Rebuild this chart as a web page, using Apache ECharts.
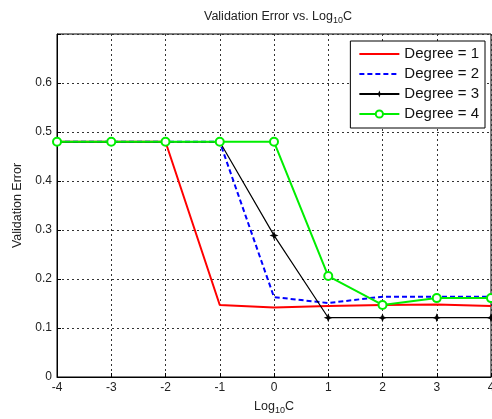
<!DOCTYPE html>
<html>
<head>
<meta charset="utf-8">
<script src="https://cdn.jsdelivr.net/npm/echarts@6/dist/echarts.min.js"></script>
<style>
  html, body { margin: 0; padding: 0; background: #fff; }
  #chart { width: 492px; height: 419px; }
</style>
</head>
<body>
<div id="chart"></div>
<script>
const logC = [-4, -3, -2, -1, 0, 1, 2, 3, 4]
const degree1 = [0.48, 0.48, 0.48, 0.147, 0.142, 0.145, 0.147, 0.148, 0.145]
const degree2 = [0.48, 0.48, 0.48, 0.48, 0.163, 0.151, 0.164, 0.164, 0.164]
const degree3 = [0.48, 0.48, 0.48, 0.48, 0.289, 0.121, 0.121, 0.121, 0.121]
const degree4 = [0.48, 0.48, 0.48, 0.48, 0.48, 0.206, 0.147, 0.161, 0.161]
const yTicks = [0, 0.1, 0.2, 0.3, 0.4, 0.5, 0.6]

const pair = (ys) => logC.map((x, i) => [x, ys[i]])
const star = 'path://M0,-5L1.4,-1.4L5,0L1.4,1.4L0,5L-1.4,1.4L-5,0L-1.4,-1.4Z'
const font = 'Arial, "Liberation Sans", sans-serif'
const txt = { fontFamily: font, fontSize: 12.5, color: '#222', fontWeight: 'normal' }
const sub = { fontFamily: font, fontSize: 9, color: '#222', fontWeight: 'normal', padding: [7, 0, 0, 0] }

const chart = echarts.init(document.getElementById('chart'))

chart.setOption({
  animation: false,
  backgroundColor: '#fff',
  title: {
    text: '{a|Validation Error vs. Log}{s|10}{a|C}',
    left: 273,
    textAlign: 'center',
    top: 4,
    textStyle: { fontWeight: 'normal', rich: { a: txt, s: sub } }
  },
  grid: {
    left: 57, right: 1, top: 34, bottom: 42,
    outerBoundsMode: 'none',
    containLabel: false,
    show: true, borderColor: '#000', borderWidth: 1, backgroundColor: '#fff'
  },
  legend: {
    orient: 'vertical',
    right: 7,
    top: 41,
    backgroundColor: '#fff',
    borderColor: '#000',
    borderWidth: 1,
    borderRadius: 0,
    padding: [5, 6, 6, 8],
    itemGap: 4,
    itemWidth: 40,
    itemHeight: 9,
    textStyle: { fontFamily: font, fontSize: 15, color: '#111', lineHeight: 16 },
    data: [
      { name: 'Degree = 1', itemStyle: { opacity: 0 } },
      { name: 'Degree = 2', itemStyle: { opacity: 0 } },
      { name: 'Degree = 3' },
      { name: 'Degree = 4' }
    ]
  },
  xAxis: {
    type: 'value',
    min: -4, max: 4, interval: 1,
    name: '{a|Log}{s|10}{a|C}',
    nameLocation: 'middle',
    nameGap: 22,
    nameTextStyle: { rich: { a: txt, s: sub } },
    axisLine: { show: true, onZero: false, lineStyle: { color: '#000' } },
    axisTick: { show: true, inside: true, length: 4, lineStyle: { color: '#000' } },
    axisLabel: { fontFamily: font, fontSize: 12, color: '#222', margin: 5 },
    splitLine: { show: true, lineStyle: { color: '#333', type: [2, 3] } }
  },
  yAxis: {
    type: 'value',
    min: 0, max: 0.7, interval: 0.1,
    name: 'Validation Error',
    nameLocation: 'middle',
    nameGap: 32,
    nameTextStyle: txt,
    axisLine: { show: true, onZero: false, lineStyle: { color: '#000' } },
    axisTick: { show: true, inside: true, length: 4, lineStyle: { color: '#000' } },
    axisLabel: {
      fontFamily: font, fontSize: 12, color: '#222', margin: 5,
      formatter: (v) => {
        const t = yTicks.find((k) => Math.abs(k - v) < 1e-6)
        return t === undefined ? '' : String(t)
      }
    },
    splitLine: { show: true, lineStyle: { color: '#333', type: [2, 3] } }
  },
  series: [
    {
      name: 'Degree = 1', type: 'line', data: pair(degree1),
      showSymbol: false, symbol: 'none',
      lineStyle: { color: '#ff0000', width: 2 }, itemStyle: { color: '#ff0000' }
    },
    {
      name: 'Degree = 2', type: 'line', data: pair(degree2),
      showSymbol: false, symbol: 'none',
      lineStyle: { color: '#0000ff', width: 2, type: [5, 3] }, itemStyle: { color: '#0000ff' }
    },
    {
      name: 'Degree = 3', type: 'line', data: pair(degree3),
      symbol: star, symbolSize: 9,
      lineStyle: { color: '#000', width: 1.2 }, itemStyle: { color: '#000' }
    },
    {
      name: 'Degree = 4', type: 'line', data: pair(degree4),
      symbol: 'emptyCircle', symbolSize: 8,
      lineStyle: { color: '#00ee00', width: 2 },
      itemStyle: { color: '#00ee00', borderWidth: 1.5 }
    }
  ]
})
</script>
</body>
</html>
